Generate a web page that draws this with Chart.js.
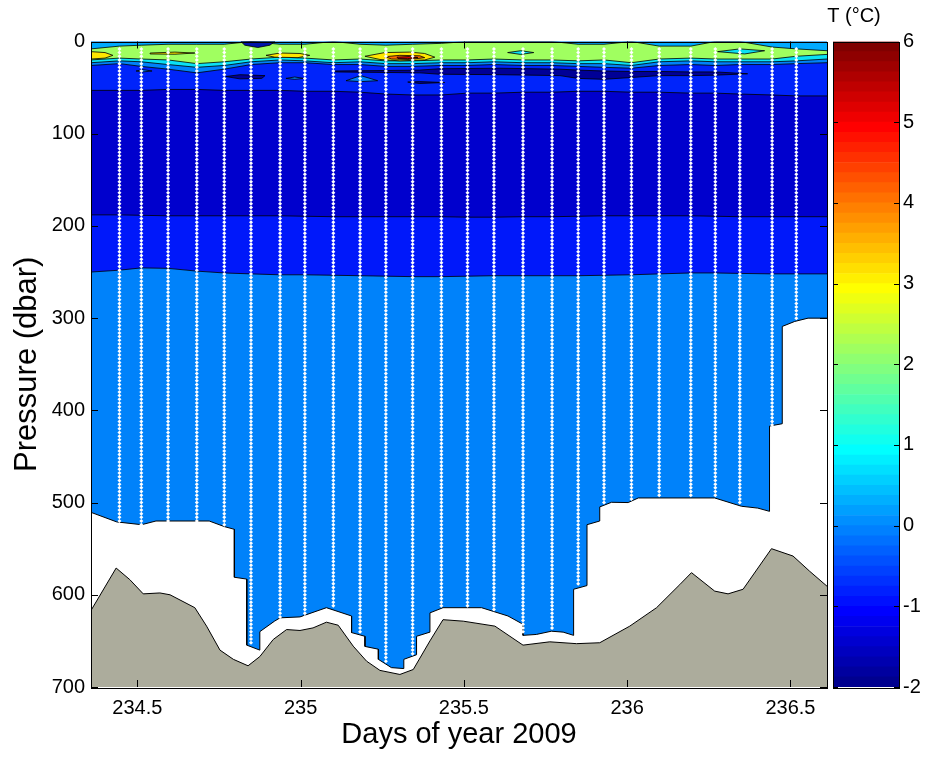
<!DOCTYPE html>
<html><head><meta charset="utf-8">
<script src="https://cdn.jsdelivr.net/npm/chart.js@4/dist/chart.umd.min.js"></script>
<style>
html,body{margin:0;padding:0;background:#fff;}
#wrap{position:relative;width:929px;height:758px;}
#wrap canvas{position:absolute;left:0;top:0;}
</style></head><body>
<div id="wrap"><canvas id="main" width="929" height="758"></canvas><canvas id="cbar" width="929" height="758"></canvas></div>
<script>
// ---------------- data ----------------
const xMin = 234.358, xMax = 236.612;
const xTicks = [234.5, 235, 235.5, 236, 236.5];
const yTicks = [0, 100, 200, 300, 400, 500, 600, 700];
const cbTicks = [-2, -1, 0, 1, 2, 3, 4, 5, 6];

// CTD stations (days) and deepest sample (dbar)
const stationDays = [234.445, 234.512, 234.594, 234.682, 234.766, 234.848, 234.937, 235.013, 235.100, 235.182, 235.261, 235.343, 235.431, 235.511, 235.592, 235.681, 235.770, 235.850, 235.929, 236.013, 236.098, 236.195, 236.270, 236.345, 236.444, 236.518];
const stationBottom = [521, 524, 520, 520, 526, 654, 625, 624, 614, 643, 672, 665, 614, 614, 618, 643, 639, 590, 502, 497, 495, 495, 495, 502, 417, 302];
const firstSample = 8, sampleStep = 4;

// grid for contour boundaries (days)
const gridDays = [234.358, 234.445, 234.512, 234.594, 234.682, 234.766, 234.848, 234.937, 235.013, 235.100, 235.182, 235.261, 235.343, 235.431, 235.511, 235.592, 235.681, 235.770, 235.850, 235.929, 236.013, 236.098, 236.195, 236.270, 236.345, 236.444, 236.518, 236.612];
const iso250 = [250,248,245.5,246,249,251,252,253,253,253.5,254,254.5,255,255,254.5,254,254,254,254,253.5,253,252,251,251,251.5,252,252,252];
const iso190 = [188,188,188.5,189,189,189,189,189,189.5,190,190,190,190,190,190.5,190.5,190,190,189.5,189,189,189,189,189.5,190,190,190,190];
const iso55  = [53,53,53,52,52,53,53,53,54,54,55,57,58,58,56,56,55,55,54,54,55,55,56,56,57,58,59,59];
const lbBottom = [26,24,27,30,34,30,25,23,23,25,25,27,27,26,26,25,26,26,27,28,29,26,25,26,25,25,24,23];
const cyBottom = [23,21,22,25,28,26,22,20,21,23,22,24,24,23,23,22,23,23,24,24,26,22,21,22,22,22,21,19];
const grBottom = [20,18,19,20,24,22,19,17,18,20,19,21,21,20,20,19,20,20,21,20,23,19,18,19,19,19,16,14];
const surfBottom = [8,5,4,3,3,3,0,3,3,0,3,4,3,2,0,0,0,0,3,3,0,5,5,0,0,6,8,10];

// lower limit of the data (dbar)
const bottomDays  = [234.358,234.437,234.513,234.557,234.720,234.766,234.797,234.797,234.835,234.835,234.875,234.875,234.920,234.937,234.998,235.079,235.156,235.156,235.197,235.197,235.238,235.238,235.278,235.316,235.316,235.355,235.355,235.396,235.396,235.436,235.554,235.635,235.681,235.681,235.722,235.768,235.804,235.836,235.836,235.877,235.877,235.916,235.916,235.952,236.003,236.034,236.268,236.350,236.400,236.436,236.436,236.475,236.475,236.513,236.554,236.612];
const bottomDepth = [510.6,521,524,520,520,526,529,581,583,654.6,660,640,628.6,625,624,614,623,641,645,656,659,670,679,680,670,665,645,640.5,619.6,614,614,623,632,644,643,639.5,640.5,644,594,590,524,520,504.7,499.7,500,495,495,504,506,509.5,417,414.5,309,303.6,300,300];

// sea floor (dbar)
const seabedDays  = [234.358,234.435,234.477,234.518,234.569,234.600,234.676,234.712,234.753,234.794,234.839,234.875,234.916,234.957,234.998,235.038,235.079,235.115,235.161,235.202,235.243,235.304,235.345,235.396,235.436,235.498,235.595,235.681,235.763,235.845,235.916,236.008,236.090,236.161,236.197,236.268,236.309,236.355,236.442,236.508,236.559,236.612];
const seabedDepth = [617,571,583.6,599,598,600,614,634,660,670,677,667,648.5,637.7,638.7,635.9,629.7,633,655.7,672,682,686.4,681,650,627,628.6,634,654.6,651,653,652,634,614,589,576,596,599,594,550,558,574.5,590.7];

// isolated contour patches [day, dbar]
const yellowA = [[234.358,11],[234.401,12],[234.425,15],[234.401,18],[234.358,19]];
const yellowB = [[234.539,12.5],[234.615,11.5],[234.676,12.5],[234.615,13.8],[234.539,13.5]];
const yellowC = [[234.894,15],[234.937,12.5],[234.998,13],[235.028,15],[234.992,17.5],[234.921,17]];
const yellowD = [[235.197,16],[235.258,12],[235.334,11.5],[235.380,13],[235.411,17],[235.380,20],[235.304,21],[235.243,19.5]];
const orangeD = [[235.258,16.5],[235.304,15],[235.365,15.5],[235.380,17.5],[235.334,19.5],[235.279,19]];
const redD    = [[235.295,17],[235.334,16.3],[235.359,17.3],[235.328,18.6],[235.298,18.5]];
const cyanA = [[235.634,12],[235.674,10],[235.714,12],[235.674,14]];
const cyanB = [[236.277,11],[236.345,8],[236.421,10],[236.360,13.5]];
const navyBand = [[235.105,32],[235.243,31.5],[235.365,31],[235.426,29.5],[235.610,29],[235.794,30],[235.849,31],[235.928,32],[236.014,32.5],[236.097,32.5],[236.195,33],[236.271,33],[236.369,35],[236.271,36.5],[236.195,37],[236.097,37],[236.014,39],[235.928,41],[235.849,40],[235.794,37],[235.610,36],[235.426,35.5],[235.365,34],[235.243,33.5],[235.105,33]];
const navyA = [[234.771,38],[234.814,36],[234.891,37],[234.881,40],[234.814,40.5]];
const navyB = [[235.328,44],[235.365,43.5],[235.441,44.5],[235.365,45.5]];
const navySurf = [[234.817,0],[234.921,0],[234.906,4],[234.869,6.5],[234.829,4]];
const lightA = [[235.139,42.5],[235.184,37],[235.236,42.5],[235.184,43.5]];
const lightB = [[234.496,32],[234.517,30.5],[234.545,32],[234.517,33]];
const lightC = [[234.955,40],[234.982,38.5],[235.010,40],[234.982,41]];

// ---------------- helpers ----------------
Chart.defaults.font.family = "'Liberation Sans', Arial, sans-serif";
Chart.defaults.color = '#000';
const pts = (xs, ys) => xs.map((x, i) => ({x: x, y: ys[i]}));
const poly = (pairs) => pairs.concat([pairs[0]]).map(p => ({x: p[0], y: p[1]}));
function band(data, color, lw) {
  return {data, backgroundColor: color, borderColor: '#000', borderWidth: lw === undefined ? 0.8 : lw,
          fill: {value: 0}, pointRadius: 0, tension: 0};
}
function patch(pairs, color) {
  return {data: poly(pairs), backgroundColor: color, borderColor: '#000', borderWidth: 0.8,
          fill: 'shape', pointRadius: 0, tension: 0};
}
const C = {
  body: 'rgb(0,130,250)', b250: 'rgb(0,24,250)', b190: 'rgb(0,0,205)', b55: 'rgb(0,36,250)',
  navy: 'rgb(0,0,150)', light: 'rgb(0,130,250)', cyan: 'rgb(10,225,245)', green: 'rgb(160,255,96)',
  yellow: 'rgb(255,230,0)', orange: 'rgb(255,110,0)', red: 'rgb(215,0,0)', surf: 'rgb(0,170,255)',
  navySurf: 'rgb(0,20,170)', seabed: 'rgb(172,172,156)'
};

const dots = [];
stationDays.forEach((d, i) => {
  for (let p = firstSample; p <= stationBottom[i]; p += sampleStep) dots.push({x: d, y: p});
});

// painter's order: first = lowest
const painter = [
  band(pts(bottomDays, bottomDepth), C.body, 1),
  band(pts(gridDays, iso250), C.b250),
  band(pts(gridDays, iso190), C.b190),
  band(pts(gridDays, iso55), C.b55),
  patch(navyBand, C.navy), patch(navyA, C.navy), patch(navyB, C.navy),
  patch(lightA, C.light), patch(lightB, C.light), patch(lightC, C.light),
  band(pts(gridDays, lbBottom), C.light),
  band(pts(gridDays, cyBottom), C.cyan),
  band(pts(gridDays, grBottom), C.green),
  patch(yellowA, C.yellow), patch(yellowB, C.yellow), patch(yellowC, C.yellow), patch(yellowD, C.yellow),
  patch(orangeD, C.orange), patch(redD, C.red),
  patch(cyanA, C.cyan), patch(cyanB, C.cyan),
  band(pts(gridDays, surfBottom), C.surf),
  patch(navySurf, C.navySurf),
  {data: pts(seabedDays, seabedDepth), backgroundColor: C.seabed, borderColor: '#000', borderWidth: 1,
   fill: {value: 700}, pointRadius: 0, tension: 0},
  {data: dots, showLine: false, fill: false, pointStyle: 'rectRot', pointRadius: 2,
   pointBackgroundColor: '#fff', pointBorderWidth: 0, borderWidth: 0}
];

const framePlugin = {
  id: 'frame',
  afterDatasetsDraw(chart) {
    const {ctx, chartArea: a, scales: {x, y}} = chart;
    ctx.save();
    ctx.strokeStyle = '#000'; ctx.lineWidth = 1;
    ctx.beginPath();
    x.ticks.forEach(t => {
      const px = Math.round(x.getPixelForValue(t.value)) + 0.5;
      ctx.moveTo(px, a.bottom); ctx.lineTo(px, a.bottom - 7);
      ctx.moveTo(px, a.top); ctx.lineTo(px, a.top + 7);
    });
    y.ticks.forEach(t => {
      const py = Math.round(y.getPixelForValue(t.value)) + 0.5;
      ctx.moveTo(a.left, py); ctx.lineTo(a.left + 7, py);
      ctx.moveTo(a.right, py); ctx.lineTo(a.right - 7, py);
    });
    ctx.stroke();
    ctx.strokeRect(Math.round(a.left) + 0.5, Math.round(a.top) + 0.5, Math.round(a.right - a.left), Math.round(a.bottom - a.top));
    ctx.restore();
  }
};

new Chart(document.getElementById('main'), {
  type: 'line',
  data: {datasets: painter.slice().reverse()},
  options: {
    responsive: false, animation: false, devicePixelRatio: 1,
    layout: {padding: {top: 41.5, right: 102, left: 0, bottom: 0}},
    plugins: {legend: {display: false}, tooltip: {enabled: false}},
    scales: {
      x: {type: 'linear', min: xMin, max: xMax,
          afterBuildTicks: s => { s.ticks = xTicks.map(v => ({value: v})); },
          ticks: {font: {size: 20}, color: '#000', padding: 9, maxRotation: 0, autoSkip: false, callback: v => String(v)},
          grid: {display: false, drawTicks: false}, border: {display: false},
          title: {display: true, text: 'Days of year 2009', font: {size: 29}, color: '#000', padding: {top: 0, bottom: 6}},
          afterFit: s => { s.height = 71; }},
      y: {type: 'linear', reverse: true, min: 0, max: 700,
          afterBuildTicks: s => { s.ticks = yTicks.map(v => ({value: v})); },
          ticks: {font: {size: 20}, color: '#000', padding: 6, autoSkip: false, callback: v => String(v)},
          grid: {display: false, drawTicks: false}, border: {display: false},
          title: {display: true, text: 'Pressure (dbar)', font: {size: 31}, color: '#000', padding: {top: 9, bottom: 0}},
          afterFit: s => { s.width = 91; }}
    }
  },
  plugins: [framePlugin]
});

// ---------------- colour bar ----------------
function jet64(k) { // MATLAB jet(64), k = 1..64
  const u = [];
  for (let i = 1; i <= 16; i++) u.push(i / 16);
  for (let i = 0; i < 15; i++) u.push(1);
  for (let i = 16; i >= 1; i--) u.push(i / 16);
  const v = idx => (idx >= 1 && idx <= u.length) ? u[idx - 1] : 0;
  const r = v(k - 24), g = v(k - 8), b = v(k + 8);
  return `rgb(${Math.round(r * 255)},${Math.round(g * 255)},${Math.round(b * 255)})`;
}
const cbMin = -2, cbMax = 6, cbLevels = 64;
const cbSets = [];
for (let k = 1; k <= cbLevels; k++) {
  const lo = cbMin + (k - 1) * (cbMax - cbMin) / cbLevels;
  const hi = cbMin + k * (cbMax - cbMin) / cbLevels;
  cbSets.push({data: [[lo, hi]], backgroundColor: jet64(k), borderWidth: 0, barPercentage: 1, categoryPercentage: 1});
}
const cbPlugin = {
  id: 'cbframe',
  afterDatasetsDraw(chart) {
    const {ctx, chartArea: a, scales: {y}} = chart;
    ctx.save();
    ctx.strokeStyle = '#000'; ctx.lineWidth = 1;
    ctx.beginPath();
    y.ticks.forEach(t => {
      const py = Math.round(y.getPixelForValue(t.value)) + 0.5;
      ctx.moveTo(a.left, py); ctx.lineTo(a.left + 5, py);
      ctx.moveTo(a.right, py); ctx.lineTo(a.right - 5, py);
    });
    ctx.stroke();
    ctx.strokeRect(Math.round(a.left) + 0.5, Math.round(a.top) + 0.5, Math.round(a.right - a.left), Math.round(a.bottom - a.top));
    ctx.fillStyle = '#000';
    ctx.font = "20px 'Liberation Sans', Arial, sans-serif";
    ctx.textAlign = 'center'; ctx.textBaseline = 'middle';
    ctx.fillText('T (°C)', (a.left + a.right) / 2 - 12, 16);
    ctx.restore();
  }
};
new Chart(document.getElementById('cbar'), {
  type: 'bar',
  data: {labels: ['T'], datasets: cbSets},
  options: {
    responsive: false, animation: false, devicePixelRatio: 1,
    layout: {padding: {top: 41.5, left: 833, right: 0, bottom: 71}},
    plugins: {legend: {display: false}, tooltip: {enabled: false}},
    scales: {
      x: {display: false, stacked: true},
      y: {position: 'right', min: cbMin, max: cbMax,
          afterBuildTicks: s => { s.ticks = cbTicks.map(v => ({value: v})); },
          ticks: {font: {size: 20}, color: '#000', padding: 4, callback: v => String(v)},
          grid: {display: false, drawTicks: false}, border: {display: false},
          afterFit: s => { s.width = 30; }}
    }
  },
  plugins: [cbPlugin]
});
</script>
</body></html>
